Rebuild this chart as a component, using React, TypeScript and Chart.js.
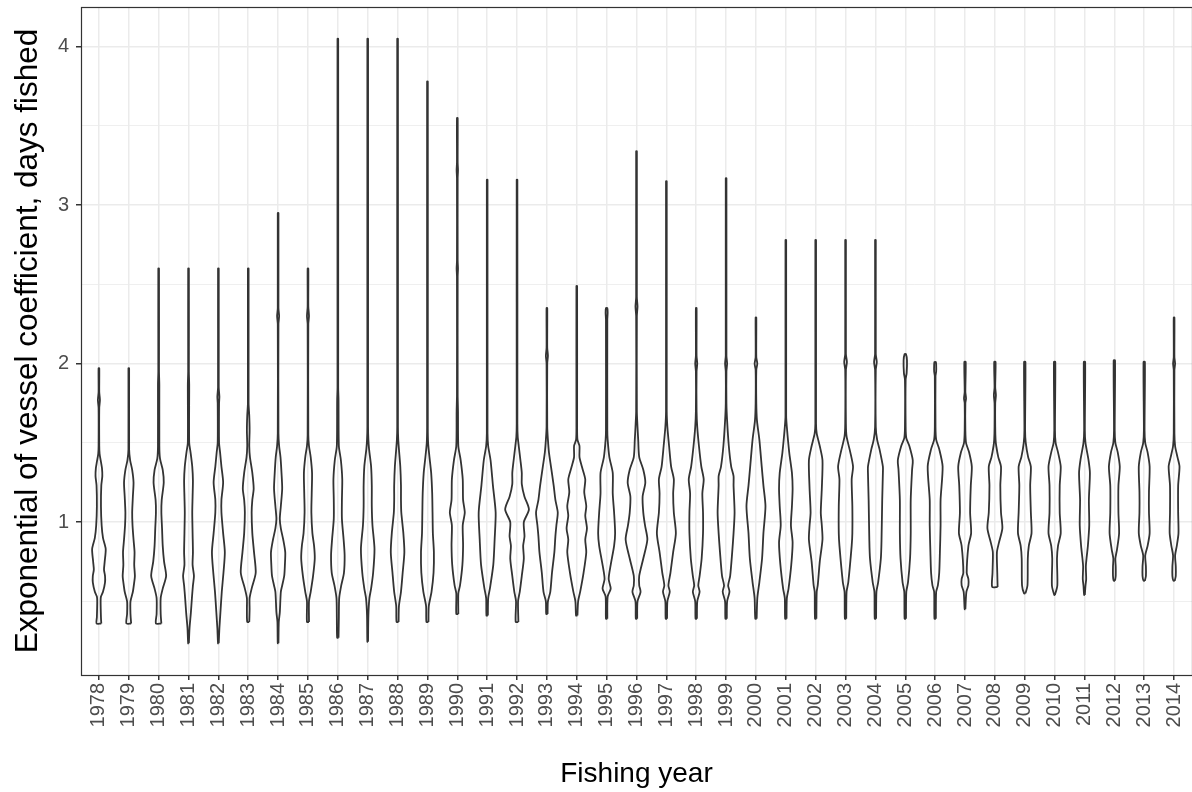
import { useEffect, useRef } from "react";
import { Chart, registerables } from "chart.js";

Chart.register(...registerables);

const years = [
  1978, 1979, 1980, 1981, 1982, 1983, 1984, 1985, 1986, 1987, 1988, 1989, 1990,
  1991, 1992, 1993, 1994, 1995, 1996, 1997, 1998, 1999, 2000, 2001, 2002, 2003,
  2004, 2005, 2006, 2007, 2008, 2009, 2010, 2011, 2012, 2013, 2014,
];

const yGridValues = [0.5, 1, 1.5, 2, 2.5, 3, 3.5, 4];

// Violin profiles per fishing year: [coefficient value, relative density],
// listed from the smallest to the largest value.
const v1978 = [[0.36, 7], [0.4, 6], [0.5, 5], [0.53, 6], [0.56, 12], [0.62, 18], [0.66, 18], [0.7, 15], [0.75, 17], [0.83, 20], [0.9, 12], [0.98, 8], [1.1, 6], [1.23, 7], [1.29, 10], [1.34, 9], [1.38, 6], [1.43, 2], [1.48, 1], [1.72, 1], [1.77, 3], [1.82, 1], [1.97, 1]];
const v1979 = [[0.36, 7], [0.42, 5], [0.5, 5], [0.56, 12], [0.62, 16], [0.66, 18], [0.73, 16], [0.81, 17], [0.89, 14], [0.98, 11], [1.06, 10], [1.16, 12], [1.25, 14], [1.33, 10], [1.39, 4], [1.46, 1], [1.97, 1]];
const v1980 = [[0.36, 8], [0.42, 6], [0.52, 6], [0.58, 12], [0.66, 22], [0.75, 16], [0.85, 12], [0.96, 10], [1.06, 8], [1.14, 9], [1.25, 15], [1.33, 12], [1.4, 4], [1.48, 2], [1.87, 2], [1.95, 1], [2.6, 1]];
const v1981 = [[0.235, 1], [0.33, 3], [0.43, 7], [0.52, 10], [0.6, 13], [0.66, 16], [0.73, 12], [0.81, 13], [0.93, 12], [1.06, 11], [1.16, 12], [1.26, 13], [1.35, 11], [1.44, 6], [1.5, 2], [1.87, 2], [1.95, 1], [2.6, 1]];
const v1982 = [[0.235, 1], [0.33, 3], [0.43, 6], [0.56, 10], [0.68, 15], [0.81, 19], [0.93, 14], [1.06, 9], [1.14, 9], [1.25, 14], [1.35, 9], [1.44, 5], [1.5, 2], [1.75, 2], [1.79, 3], [1.85, 1], [2.6, 1]];
const v1983 = [[0.37, 3], [0.45, 4], [0.52, 4], [0.58, 10], [0.68, 22], [0.81, 17], [0.93, 12], [1.06, 10], [1.14, 12], [1.21, 16], [1.31, 12], [1.41, 5], [1.48, 3], [1.58, 4], [1.67, 3], [1.75, 1], [2.6, 1]];
const v1984 = [[0.235, 1], [0.37, 2], [0.43, 5], [0.56, 8], [0.6, 12], [0.66, 18], [0.73, 20], [0.81, 21], [0.89, 15], [0.96, 8], [1.02, 5], [1.1, 8], [1.21, 12], [1.31, 10], [1.41, 7], [1.48, 3], [1.56, 1], [2.25, 1], [2.3, 3], [2.35, 1], [2.95, 1]];
const v1985 = [[0.37, 3], [0.5, 3], [0.56, 8], [0.66, 15], [0.77, 20], [0.85, 18], [0.93, 13], [1.06, 10], [1.18, 11], [1.31, 12], [1.41, 8], [1.48, 3], [1.55, 1], [2.25, 1], [2.3, 3], [2.36, 1], [2.6, 1]];
const v1986 = [[0.27, 2], [0.4, 3], [0.52, 4], [0.6, 10], [0.68, 18], [0.79, 20], [0.89, 17], [1.02, 12], [1.14, 12], [1.27, 13], [1.39, 9], [1.48, 3], [1.77, 2], [1.85, 1], [4.05, 1]];
const v1987 = [[0.245, 1], [0.41, 2], [0.52, 5], [0.58, 10], [0.68, 16], [0.83, 20], [0.98, 14], [1.1, 12], [1.23, 12], [1.35, 10], [1.46, 4], [1.52, 2], [1.6, 1], [4.05, 1]];
const v1988 = [[0.37, 3], [0.47, 4], [0.56, 10], [0.68, 15], [0.81, 20], [0.93, 17], [1.06, 11], [1.14, 10], [1.23, 10], [1.35, 8], [1.46, 4], [1.52, 2], [1.6, 1], [4.05, 1]];
const v1989 = [[0.37, 3], [0.47, 4], [0.56, 12], [0.68, 18], [0.81, 19], [0.93, 16], [1.06, 15], [1.18, 14], [1.31, 11], [1.41, 6], [1.5, 2], [1.6, 1], [3.78, 1]];
const v1990 = [[0.42, 3], [0.55, 3], [0.6, 8], [0.73, 15], [0.85, 17], [0.98, 16], [1.06, 22], [1.14, 17], [1.27, 16], [1.39, 10], [1.48, 3], [1.7, 2], [1.8, 1], [2.55, 1], [2.6, 2], [2.65, 1], [3.17, 1], [3.22, 2], [3.27, 1], [3.55, 1]];
const v1991 = [[0.41, 2], [0.52, 3], [0.58, 8], [0.73, 18], [0.89, 22], [1.06, 25], [1.23, 17], [1.39, 10], [1.48, 3], [1.56, 1], [3.16, 1]];
const v1992 = [[0.37, 4], [0.5, 3], [0.56, 8], [0.66, 14], [0.77, 20], [0.85, 18], [0.91, 22], [1.0, 20], [1.08, 35], [1.16, 22], [1.24, 14], [1.31, 14], [1.39, 10], [1.48, 5], [1.54, 2], [1.62, 1], [3.16, 1]];
const v1993 = [[0.42, 2], [0.5, 3], [0.56, 10], [0.68, 15], [0.81, 22], [0.91, 25], [0.98, 28], [1.06, 32], [1.14, 25], [1.23, 20], [1.35, 12], [1.44, 6], [1.52, 3], [1.6, 1], [2.0, 1], [2.05, 3], [2.1, 1], [2.35, 1]];
const v1994 = [[0.41, 2], [0.5, 4], [0.56, 10], [0.68, 20], [0.81, 28], [0.89, 25], [0.96, 30], [1.04, 25], [1.1, 28], [1.19, 22], [1.27, 25], [1.35, 15], [1.41, 8], [1.48, 8], [1.52, 2], [1.6, 1], [2.49, 1]];
const v1995 = [[0.39, 2], [0.53, 3], [0.58, 12], [0.64, 6], [0.73, 12], [0.85, 22], [0.93, 25], [1.06, 22], [1.18, 18], [1.31, 18], [1.41, 8], [1.52, 3], [1.58, 2], [2.28, 2], [2.32, 3], [2.35, 2]];
const v1996 = [[0.39, 2], [0.5, 3], [0.56, 12], [0.6, 8], [0.66, 8], [0.77, 20], [0.89, 32], [0.98, 25], [1.06, 20], [1.16, 18], [1.25, 26], [1.33, 20], [1.41, 8], [1.52, 5], [1.6, 3], [1.7, 1], [2.3, 1], [2.36, 3], [2.42, 1], [3.34, 1]];
const v1997 = [[0.39, 2], [0.5, 3], [0.56, 10], [0.6, 6], [0.68, 12], [0.81, 20], [0.93, 28], [1.06, 22], [1.18, 20], [1.27, 22], [1.35, 14], [1.48, 8], [1.6, 3], [1.7, 1], [3.15, 1]];
const v1998 = [[0.39, 2], [0.5, 3], [0.56, 10], [0.6, 6], [0.66, 10], [0.77, 16], [0.93, 20], [1.06, 20], [1.18, 18], [1.27, 22], [1.35, 15], [1.48, 8], [1.6, 3], [1.7, 1], [1.95, 1], [2.0, 3], [2.05, 1], [2.35, 1]];
const v1999 = [[0.39, 2], [0.5, 3], [0.56, 10], [0.6, 6], [0.66, 12], [0.81, 18], [0.93, 22], [1.06, 25], [1.23, 22], [1.29, 22], [1.35, 15], [1.48, 8], [1.64, 3], [1.75, 1], [1.95, 1], [2.0, 3], [2.05, 1], [3.17, 1]];
const v2000 = [[0.39, 2], [0.52, 4], [0.62, 10], [0.77, 18], [0.93, 22], [1.1, 28], [1.23, 22], [1.35, 17], [1.52, 10], [1.64, 3], [1.75, 1], [1.96, 1], [2.0, 4], [2.04, 1], [2.29, 1]];
const v2001 = [[0.39, 2], [0.52, 3], [0.58, 8], [0.73, 16], [0.87, 20], [0.98, 15], [1.1, 18], [1.21, 20], [1.31, 18], [1.44, 10], [1.6, 3], [1.67, 1], [2.78, 1]];
const v2002 = [[0.39, 2], [0.56, 3], [0.6, 6], [0.75, 12], [0.89, 20], [0.98, 18], [1.06, 15], [1.21, 18], [1.39, 20], [1.48, 12], [1.56, 3], [1.62, 1], [2.78, 1]];
const v2003 = [[0.39, 2], [0.56, 3], [0.62, 8], [0.85, 18], [0.93, 20], [1.1, 20], [1.27, 18], [1.35, 22], [1.44, 14], [1.54, 3], [1.62, 1], [1.96, 1], [2.01, 4], [2.06, 1], [2.78, 1]];
const v2004 = [[0.39, 2], [0.56, 3], [0.62, 8], [0.77, 16], [0.89, 18], [1.14, 20], [1.31, 22], [1.35, 22], [1.46, 12], [1.52, 5], [1.6, 1], [1.96, 1], [2.01, 4], [2.06, 1], [2.78, 1]];
const v2005 = [[0.39, 2], [0.56, 3], [0.62, 8], [0.77, 14], [0.93, 16], [1.14, 16], [1.33, 20], [1.39, 22], [1.48, 12], [1.53, 3], [1.6, 1], [1.9, 1], [1.94, 4], [2.02, 5], [2.06, 2]];
const v2006 = [[0.39, 2], [0.56, 3], [0.6, 8], [0.68, 12], [0.81, 14], [0.98, 16], [1.14, 16], [1.35, 22], [1.46, 12], [1.52, 3], [1.6, 1], [1.92, 1], [1.95, 3], [1.99, 3], [2.01, 2]];
const v2007 = [[0.45, 1], [0.56, 4], [0.6, 10], [0.64, 10], [0.68, 5], [0.85, 10], [0.93, 18], [1.06, 15], [1.23, 17], [1.35, 20], [1.44, 12], [1.5, 3], [1.58, 1], [1.75, 1], [1.78, 3], [1.82, 1], [2.01, 2]];
const v2008 = [[0.59, 8], [0.68, 7], [0.81, 6], [0.87, 12], [0.96, 22], [1.06, 18], [1.23, 16], [1.35, 18], [1.41, 10], [1.48, 4], [1.52, 2], [1.6, 1], [1.75, 1], [1.8, 3], [1.85, 1], [2.01, 2]];
const v2009 = [[0.55, 2], [0.6, 8], [0.77, 9], [0.85, 12], [0.93, 20], [1.06, 18], [1.23, 16], [1.35, 18], [1.41, 10], [1.5, 3], [1.58, 1], [2.01, 2]];
const v2010 = [[0.54, 1], [0.6, 8], [0.77, 7], [0.85, 10], [0.93, 18], [1.06, 15], [1.23, 15], [1.35, 18], [1.44, 10], [1.5, 3], [1.58, 1], [2.01, 2]];
const v2011 = [[0.54, 1], [0.6, 3], [0.64, 5], [0.72, 4], [0.77, 6], [0.85, 10], [0.98, 14], [1.14, 13], [1.31, 16], [1.39, 12], [1.5, 3], [1.58, 1], [2.01, 2]];
const v2012 = [[0.63, 2], [0.66, 4], [0.72, 4], [0.77, 3], [0.83, 8], [0.93, 14], [1.06, 12], [1.23, 12], [1.35, 16], [1.44, 10], [1.5, 3], [1.58, 1], [2.02, 2]];
const v2013 = [[0.63, 2], [0.66, 5], [0.72, 5], [0.79, 3], [0.85, 10], [0.93, 16], [1.06, 14], [1.19, 14], [1.35, 16], [1.44, 10], [1.5, 3], [1.58, 1], [2.01, 2]];
const v2014 = [[0.63, 2], [0.66, 5], [0.72, 5], [0.79, 3], [0.85, 8], [0.93, 13], [1.06, 12], [1.23, 12], [1.35, 16], [1.41, 10], [1.48, 3], [1.56, 1], [1.96, 1], [2.0, 3], [2.04, 1], [2.29, 1]];

const violins = [
  v1978, v1979, v1980, v1981, v1982, v1983, v1984, v1985, v1986, v1987, v1988,
  v1989, v1990, v1991, v1992, v1993, v1994, v1995, v1996, v1997, v1998, v1999,
  v2000, v2001, v2002, v2003, v2004, v2005, v2006, v2007, v2008, v2009, v2010,
  v2011, v2012, v2013, v2014,
];

// Category units of half-width per unit of relative density
const DENSITY_TO_WIDTH = 1 / 88;

const FONT = "'Liberation Sans', Arial, Helvetica, sans-serif";
const INK = "#333333";
const GRID = "#EBEBEB";

// Closed outline: right half going up, left half coming back down
function outline(index: number, profile: number[][]) {
  const right = profile.map(([v, d]) => ({ x: index + d * DENSITY_TO_WIDTH, y: v }));
  const left = profile
    .slice()
    .reverse()
    .map(([v, d]) => ({ x: index - d * DENSITY_TO_WIDTH, y: v }));
  return [...right, ...left, right[0]];
}

const panelBorder = {
  id: "panelBorder",
  afterDraw(chart: any) {
    const { ctx, chartArea } = chart;
    ctx.save();
    ctx.strokeStyle = INK;
    ctx.lineWidth = 1.2;
    ctx.strokeRect(chartArea.left + 0.5, chartArea.top + 0.5, chartArea.right - chartArea.left, chartArea.bottom - chartArea.top);
    ctx.restore();
  },
};

export default function App() {
  const canvasRef = useRef<HTMLCanvasElement>(null);

  useEffect(() => {
    if (!canvasRef.current) return;
    const datasets = violins.map((profile, i) => ({
      label: String(years[i]),
      data: outline(i, profile),
      showLine: true,
      fill: false,
      borderColor: INK,
      borderWidth: 1.8,
      tension: 0.25,
      pointRadius: 0,
      pointHoverRadius: 0,
    }));

    const chart = new Chart(canvasRef.current, {
      type: "scatter",
      data: { datasets },
      options: {
        animation: false,
        responsive: false,
        devicePixelRatio: 1,
        layout: { padding: { top: 7, right: 0, left: 0, bottom: 0 } },
        plugins: { legend: { display: false }, tooltip: { enabled: false } },
        scales: {
          x: {
            type: "linear",
            min: -0.6,
            max: years.length - 0.4,
            afterBuildTicks: (scale: any) => {
              scale.ticks = years.map((_, i) => ({ value: i }));
            },
            afterFit: (scale: any) => {
              scale.height = 117;
              scale.paddingLeft = 0;
              scale.paddingRight = 0;
            },
            ticks: {
              autoSkip: false,
              minRotation: 90,
              maxRotation: 90,
              padding: 3,
              color: "#4D4D4D",
              font: { family: FONT, size: 20 },
              callback: (value: any) => String(years[value]),
            },
            grid: { color: GRID, lineWidth: 1.5, tickColor: INK, tickLength: 5 },
            border: { display: false },
            title: {
              display: true,
              text: "Fishing year",
              color: "#000000",
              font: { family: FONT, size: 28 },
              padding: { top: 0, bottom: 1 },
            },
          },
          y: {
            type: "linear",
            min: 0.035,
            max: 4.25,
            afterBuildTicks: (scale: any) => {
              scale.ticks = yGridValues.map((v) => ({ value: v }));
            },
            afterFit: (scale: any) => {
              scale.width = 81;
              scale.paddingTop = 0;
              scale.paddingBottom = 0;
            },
            ticks: {
              padding: 7,
              color: "#4D4D4D",
              font: { family: FONT, size: 20 },
              callback: (value: any) => (Number.isInteger(value) ? String(value) : ""),
            },
            grid: {
              color: GRID,
              lineWidth: (ctx: any) => (Number.isInteger(ctx.tick?.value) ? 1.5 : 0.8),
              tickColor: (ctx: any) => (Number.isInteger(ctx.tick?.value) ? INK : "rgba(0,0,0,0)"),
              tickLength: 5,
            },
            border: { display: false },
            title: {
              display: true,
              text: "Exponential of vessel coefficient, days fished",
              color: "#000000",
              font: { family: FONT, size: 31.5 },
              padding: { top: 9, bottom: 0 },
            },
          },
        },
      },
      plugins: [panelBorder],
    });

    return () => chart.destroy();
  }, []);

  return (
    <div style={{ position: "absolute", left: 0, top: 0, width: 1192, height: 792, background: "#ffffff" }}>
      <canvas ref={canvasRef} width={1192} height={792} />
    </div>
  );
}
